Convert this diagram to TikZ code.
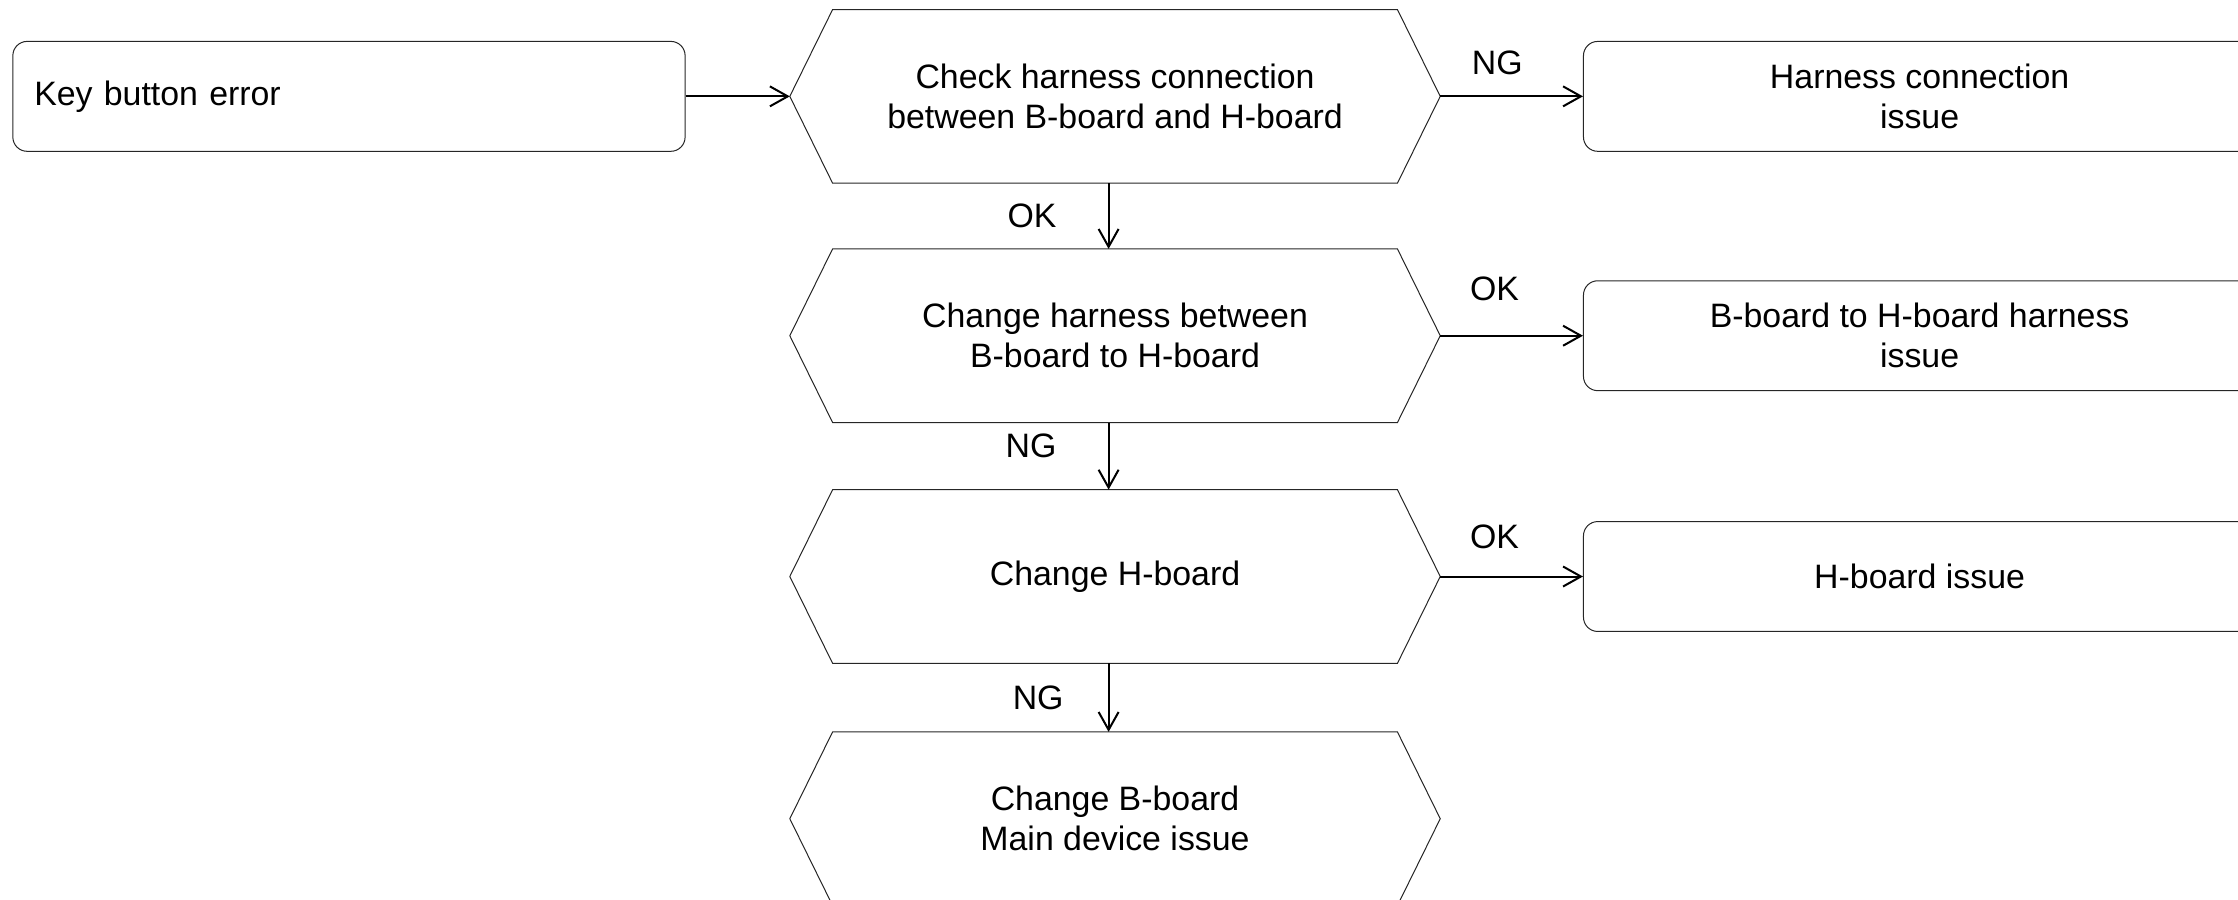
\documentclass[tikz,border=0pt]{standalone}
\usepackage{fontspec}
\setmainfont{Liberation Sans}
\usetikzlibrary{positioning, arrows.meta}

\begin{document}
\begin{tikzpicture}[font=\fontsize{13.5}{16}\selectfont,
        box/.style={rectangle, draw=black!85, rounded corners=0.2cm, line width=0.4pt,
            minimum width=9.42cm, minimum height=1.54cm, align=center},
        hexa/.style={rectangle, minimum width=9.1cm, minimum height=2.42cm, align=center},
        flow/.style={-{Straight Barb[length=2.5mm, width=2.8mm]}, line width=0.8pt},
        node distance=0.92cm]
        \useasboundingbox (0,0) rectangle (31.36,-12.6);
        \clip (0,0) rectangle (31.36,-12.6);

        % start
        \node[box, align=left, text width=8.82cm, inner xsep=0.3cm] (key) at (4.89,-1.35) {Key button error};

        % checks
        \node[hexa, right=1.46cm of key] (chk) {Check harness connection\\between B-board and H-board};
        \node[hexa, below=of chk] (swap) {Change harness between\\B-board to H-board};
        \node[hexa, below=0.94cm of swap] (hbd) {Change H-board};
        \node[hexa, below=0.96cm of hbd] (bbd) {Change B-board\\Main device issue};
        \foreach \n in {chk, swap, hbd, bbd}
            \draw[line width=0.4pt, draw=black!85] ([xshift=0.6cm]\n.north west) -- ([xshift=-0.6cm]\n.north east)
                -- (\n.east) -- ([xshift=-0.6cm]\n.south east) -- ([xshift=0.6cm]\n.south west) -- (\n.west) -- cycle;

        % results
        \node[box, right=2cm of chk] (harn) {Harness connection\\issue};
        \node[box, right=2cm of swap] (wire) {B-board to H-board harness\\issue};
        \node[box, right=2cm of hbd] (hiss) {H-board issue};

        \draw[flow] (key) -- (chk);
        \draw[flow] (chk) -- node[pos=0.4, above=5pt] (ng1) {NG} (harn);
        \draw[flow] (swap) -- node[pos=0.38, above=10pt] (ok2) {OK} (wire);
        \draw[flow] (hbd) -- node[pos=0.38, above=7.5pt] (ok3) {OK} (hiss);
        \draw[flow] ([xshift=-0.09cm]chk.south) -- node[left=0.6cm] (ok1) {OK} ([xshift=-0.09cm]swap.north);
        \draw[flow] ([xshift=-0.09cm]swap.south) -- node[left=0.6cm, yshift=0.14cm] (ng2) {NG} ([xshift=-0.09cm]hbd.north);
        \draw[flow] ([xshift=-0.09cm]hbd.south) -- node[left=0.5cm] (ng3) {NG} ([xshift=-0.09cm]bbd.north);
\end{tikzpicture}
\end{document}
